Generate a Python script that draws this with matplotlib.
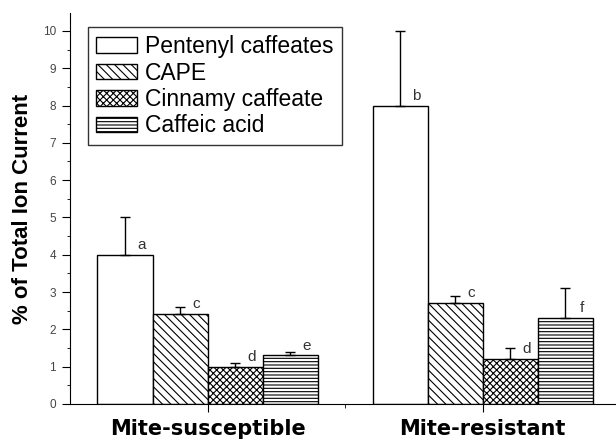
import matplotlib
matplotlib.use("Agg")
import matplotlib.pyplot as plt
from matplotlib.ticker import MultipleLocator, FixedLocator
import numpy as np

plt.rcParams['font.family'] = ['Liberation Sans', 'DejaVu Sans']
plt.rcParams['hatch.linewidth'] = 0.8

groups = ["Mite-susceptible", "Mite-resistant"]
compounds = ["Pentenyl caffeates", "CAPE", "Cinnamy caffeate", "Caffeic acid"]
hatches = ["", "\\\\\\\\", "xxxxx", "-----"]
# rows: compounds, columns: groups
means = [[4.0, 8.0],
         [2.4, 2.7],
         [1.0, 1.2],
         [1.3, 2.3]]
errs = [[1.0, 2.0],
        [0.2, 0.2],
        [0.1, 0.3],
        [0.1, 0.8]]
letters = [["a", "b"],
           ["c", "c"],
           ["d", "d"],
           ["e", "f"]]

fig = plt.figure(figsize=(6.16, 4.44), dpi=100)
ax = fig.add_axes([0.1136, 0.0901, 0.886, 0.8806])

centers = np.array([0.0, 5.0])
offsets = [-1.5, -0.5, 0.5, 1.5]
for i, name in enumerate(compounds):
    xs = centers + offsets[i]
    ax.bar(xs, means[i], width=1.0, color="white", edgecolor="black",
           linewidth=1.0, hatch=hatches[i], label=name, zorder=2)
    ax.errorbar(xs, means[i], yerr=[np.zeros(2), errs[i]], fmt="none",
                ecolor="black", elinewidth=1.0, capsize=3.5, capthick=1.0, zorder=3)
    for j in range(2):
        ax.text(xs[j] + 0.3, means[i][j] + 0.08, letters[i][j], fontsize=11,
                color="#333333", ha="center", va="bottom", zorder=4)

ax.set_xlim(-2.5, 7.42)
ax.set_ylim(0, 10.48)
ax.spines['top'].set_visible(False)
ax.spines['right'].set_visible(False)

ax.yaxis.set_major_locator(MultipleLocator(1))
ax.yaxis.set_minor_locator(MultipleLocator(0.5))
ax.tick_params(axis='y', which='major', direction='out', length=6, pad=4,
               labelsize=8.5, labelcolor="#444444")
ax.tick_params(axis='y', which='minor', direction='out', length=2.5)

ax.set_xticks(centers)
ax.set_xticklabels(groups, fontsize=15, fontweight='bold', family='DejaVu Sans')
ax.xaxis.set_minor_locator(FixedLocator([2.5]))
ax.tick_params(axis='x', which='major', direction='out', length=6, pad=5)
ax.tick_params(axis='x', which='minor', direction='out', length=3)

ax.set_ylabel("% of Total Ion Current", fontsize=16, fontweight='bold', labelpad=7)

leg = ax.legend(loc="upper left", bbox_to_anchor=(0.033, 0.964), borderaxespad=0,
                fontsize=16.5, frameon=True, fancybox=False, handlelength=1.8,
                handleheight=0.65, labelspacing=0.15, handletextpad=0.35,
                borderpad=0.35)
leg.get_frame().set_edgecolor("black")
leg.get_frame().set_linewidth(1.0)

fig.savefig("out.png", dpi=100)
